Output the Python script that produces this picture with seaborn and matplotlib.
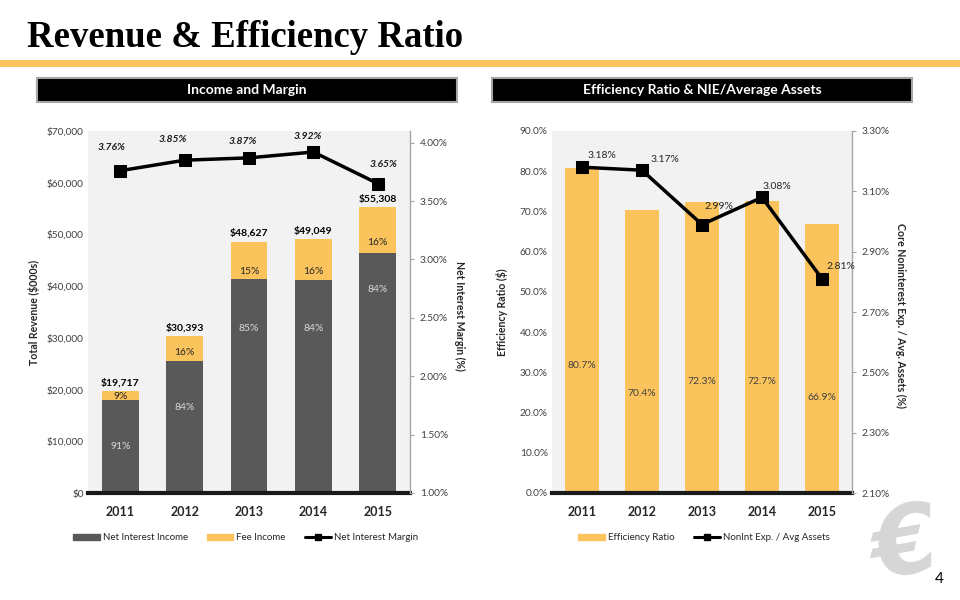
import numpy as np
import matplotlib.pyplot as plt
import matplotlib.patches as mpatches
from matplotlib.lines import Line2D
from matplotlib.ticker import FuncFormatter, MultipleLocator
import seaborn as sns

# data
years = ['2011', '2012', '2013', '2014', '2015']

total_revenue = [19717, 30393, 48627, 49049, 55308]
net_interest_income = [17900, 25500, 41300, 41200, 46500]
nii_share = ['91%', '84%', '85%', '84%', '84%']
fee_share = ['9%', '16%', '15%', '16%', '16%']
nim = [3.76, 3.85, 3.87, 3.92, 3.65]

efficiency_ratio = [80.7, 70.4, 72.3, 72.7, 66.9]
nie_avg_assets = [3.18, 3.17, 2.99, 3.08, 2.81]

DARK = '#595959'
GOLD = '#FBC35C'
BG = '#F2F2F2'
TXT = '#404040'

sns.set_style('white')
plt.rcParams['font.family'] = ['Lato', 'DejaVu Sans']

fig = plt.figure(figsize=(9.6, 6), dpi=100)


def px_rect(x0, y0, x1, y1):
    return [x0 / 960, 1 - y1 / 600, (x1 - x0) / 960, (y1 - y0) / 600]


def style_axes(ax, ax2):
    ax.set_facecolor(BG)
    for s in ['left', 'top', 'right']:
        ax.spines[s].set_visible(False)
    ax.spines['bottom'].set_linewidth(3)
    ax.spines['bottom'].set_color('#1A1A1A')
    ax.tick_params(axis='y', length=0, labelsize=7.3, labelcolor=TXT, pad=3)
    ax.tick_params(axis='x', length=0, labelsize=9, pad=9)
    for lab in ax.get_xticklabels():
        lab.set_fontweight('bold')
    ax.set_xlim(-0.5, len(years) - 0.5)
    ax2.patch.set_visible(False)
    for s in ['left', 'top', 'bottom']:
        ax2.spines[s].set_visible(False)
    ax2.spines['right'].set_color('#A6A6A6')
    ax2.spines['right'].set_linewidth(1)
    ax2.tick_params(axis='y', length=3, color='#A6A6A6', labelsize=7.3, labelcolor=TXT, pad=4)
    ax2.set_xlabel('')


# ---------------- left chart: Income and Margin
ax1 = fig.add_axes(px_rect(88, 131, 410, 493))
sns.barplot(x=years, y=total_revenue, color=GOLD, width=0.57, saturation=1,
            errorbar=None, linewidth=0, ax=ax1)
sns.barplot(x=years, y=net_interest_income, color=DARK, width=0.57, saturation=1,
            errorbar=None, linewidth=0, ax=ax1)
ax1.set_ylim(0, 70000)
ax1.yaxis.set_major_locator(MultipleLocator(10000))
ax1.yaxis.set_major_formatter(FuncFormatter(lambda v, p: f'${v:,.0f}'))
ax1.set_ylabel('Total Revenue ($000s)', fontsize=7.6, fontweight='bold')
ax1.yaxis.set_label_coords(-0.15, 0.5)

ax1b = ax1.twinx()
sns.lineplot(x=np.arange(len(years)), y=nim, color='black', marker='s', markersize=9,
             markeredgecolor='black', linewidth=2.5, ax=ax1b)
ax1b.set_ylim(1.0, 4.1)
ax1b.set_yticks(np.arange(1.0, 4.01, 0.5))
ax1b.yaxis.set_major_formatter(FuncFormatter(lambda v, p: f'{v:.2f}%'))
ax1b.set_ylabel('Net Interest Margin (%)', fontsize=7.6, fontweight='bold', rotation=-90)
ax1b.yaxis.set_label_coords(1.17, 0.49)
style_axes(ax1, ax1b)

# label placement (data units / offsets in points)
nii_label_y = [8900, 16500, 31900, 31900, 39400]
fee_label_y = [18700, 27200, 42800, 42800, 48400]
nim_offsets = [(-6.5, 16.5), (-8.6, 15), (-4.3, 12), (-4.3, 11), (4.3, 14)]
for i in range(len(years)):
    ax1.text(i, nii_label_y[i], nii_share[i], ha='center', va='center', fontsize=7.5, color='#D9D9D9')
    ax1.text(i, fee_label_y[i], fee_share[i], ha='center', va='center', fontsize=7.5, color='#262626')
    ax1.annotate(f'${total_revenue[i]:,}', (i, total_revenue[i]), xytext=(0, 2.5),
                 textcoords='offset points', ha='center', va='bottom', fontsize=7.5,
                 fontweight='bold', color='black')
    ax1b.annotate(f'{nim[i]:.2f}%', (i, nim[i]), xytext=nim_offsets[i], textcoords='offset points',
                  ha='center', va='center', fontsize=7.5, fontweight='bold', fontstyle='italic',
                  color='#1A1A1A')

# ---------------- right chart: Efficiency Ratio & NIE/Average Assets
ax3 = fig.add_axes(px_rect(552, 131, 852, 493))
sns.barplot(x=years, y=efficiency_ratio, color=GOLD, width=0.58, saturation=1,
            errorbar=None, linewidth=0, ax=ax3)
ax3.set_ylim(0, 90)
ax3.yaxis.set_major_locator(MultipleLocator(10))
ax3.yaxis.set_major_formatter(FuncFormatter(lambda v, p: f'{v:.1f}%'))
ax3.set_ylabel('Efficiency Ratio ($)', fontsize=7.6, fontweight='bold')
ax3.yaxis.set_label_coords(-0.145, 0.5)

ax3b = ax3.twinx()
sns.lineplot(x=np.arange(len(years)), y=nie_avg_assets, color='black', marker='s', markersize=9,
             markeredgecolor='black', linewidth=2.5, ax=ax3b)
ax3b.set_ylim(2.10, 3.30)
ax3b.set_yticks(np.arange(2.10, 3.31, 0.20))
ax3b.yaxis.set_major_formatter(FuncFormatter(lambda v, p: f'{v:.2f}%'))
ax3b.set_ylabel('Core Noninterest Exp. / Avg. Assets (%)', fontsize=7.6, fontweight='bold', rotation=-90)
ax3b.yaxis.set_label_coords(1.18, 0.49)
style_axes(ax3, ax3b)

eff_label_y = [31.6, 24.7, 27.8, 27.8, 23.8]
nie_offsets = [(14.5, 8.5), (16.8, 8), (12, 13), (11, 7.6), (13.7, 8.9)]
for i in range(len(years)):
    ax3.text(i, eff_label_y[i], f'{efficiency_ratio[i]:.1f}%', ha='center', va='center',
             fontsize=7.5, color=TXT)
    ax3b.annotate(f'{nie_avg_assets[i]:.2f}%', (i, nie_avg_assets[i]), xytext=nie_offsets[i],
                  textcoords='offset points', ha='center', va='center', fontsize=7.5, color='#262626')

# ---------------- legends
leg_kw = dict(loc='center', ncol=3, frameon=False, fontsize=7, handlelength=2.7,
              handleheight=0.55, handletextpad=0.3, columnspacing=2.0, labelcolor='#262626')
nim_handle = Line2D([], [], color='black', marker='s', markersize=4, linewidth=2.2)
fig.legend([mpatches.Patch(color=DARK), mpatches.Patch(color=GOLD), nim_handle],
           ['Net Interest Income', 'Fee Income', 'Net Interest Margin'],
           bbox_to_anchor=(246 / 960, 1 - 538 / 600), **leg_kw)
fig.legend([mpatches.Patch(color=GOLD), nim_handle],
           ['Efficiency Ratio', 'NonInt Exp. / Avg Assets'],
           bbox_to_anchor=(704 / 960, 1 - 538 / 600), **leg_kw)

# ---------------- slide decoration
fig.text(27 / 960, 1 - 47 / 600, 'Revenue & Efficiency Ratio', fontsize=26.5, fontweight='bold',
         family='Liberation Serif', color='black', va='baseline', ha='left')
fig.add_artist(mpatches.Rectangle((0, 1 - 67 / 600), 1, 7 / 600, transform=fig.transFigure,
                                  facecolor=GOLD, edgecolor='none'))
for x0, x1, title in [(37, 457, 'Income and Margin'),
                      (492, 912, 'Efficiency Ratio & NIE/Average Assets')]:
    r = px_rect(x0, 78, x1, 102)
    fig.add_artist(mpatches.Rectangle((r[0], r[1]), r[2], r[3], transform=fig.transFigure,
                                      facecolor='black', edgecolor='#A6A6A6', linewidth=1.5))
    fig.text(r[0] + r[2] / 2, r[1] + r[3] / 2, title, color='white', fontsize=10,
             fontweight='bold', ha='center', va='center')

fig.text(906 / 960, 1 - 549 / 600, '€', fontsize=68, fontweight='bold', fontstyle='italic',
         family='DejaVu Sans', color='#D6D6D6', ha='center', va='center', rotation=10)
fig.text(939 / 960, 1 - 579 / 600, '4', fontsize=11, color='black', ha='center', va='center')

fig.savefig('out.png', dpi=100)
